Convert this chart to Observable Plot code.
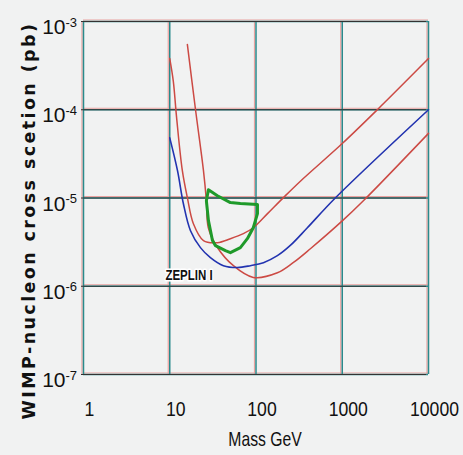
<!DOCTYPE html>
<html>
<head>
<meta charset="utf-8">
<script src="https://cdn.jsdelivr.net/npm/d3@7"></script>
<script src="https://cdn.jsdelivr.net/npm/@observablehq/plot@0.6"></script>
<style>
  html, body { margin: 0; padding: 0; background: #f1f2f2; }
  #chart svg { display: block; }
</style>
</head>
<body>
<div id="chart"></div>
<script>
// Axis ticks
const massTicks = [1, 10, 100, 1000, 10000];
const sigmaTicks = [1e-7, 1e-6, 1e-5, 1e-4, 1e-3];

// Blue limit curve
const blueMass  = [10, 12.3, 14.4, 17.4, 22.7, 29.6, 41.9, 60.9, 86, 122, 177, 250, 394, 830, 10000];
const blueSigma = [4.8e-5, 2.04e-5, 8.6e-6, 4.26e-6, 2.74e-6, 2.11e-6, 1.71e-6, 1.63e-6, 1.71e-6, 1.85e-6, 2.22e-6, 2.9e-6, 4.6e-6, 1e-5, 1e-4];

// Upper red limit curve
const redAMass  = [10, 11, 12, 14, 16, 18.8, 24.6, 35.7, 50.5, 71.4, 93, 136, 208, 327, 1000, 2550, 10000];
const redASigma = [3.8e-4, 2.1e-4, 8.2e-5, 2.04e-5, 1.01e-5, 5.1e-6, 3.29e-6, 3.12e-6, 3.46e-6, 3.95e-6, 4.6e-6, 6.65e-6, 1.01e-5, 1.55e-5, 4.14e-5, 1e-4, 3.8e-4];

// Lower red limit curve
const redBMass  = [16, 19.9, 24.6, 26.6, 28, 35.7, 54.7, 93, 177, 272, 427, 1000, 1757, 10000];
const redBSigma = [5.5e-4, 1e-4, 2.04e-5, 9.3e-6, 4.6e-6, 2.75e-6, 1.71e-6, 1.26e-6, 1.42e-6, 1.86e-6, 2.66e-6, 5.5e-6, 9.3e-6, 5.4e-5];

// Green signal region outline
const greenMass  = [28.1, 35.7, 50.5, 65.9, 104, 104, 93, 79.4, 65.9, 50.5, 44.2, 33.9, 31.3, 28.1, 26.6, 28.1];
const greenSigma = [1.24e-5, 1.06e-5, 8.87e-6, 8.64e-6, 8.42e-6, 6.65e-6, 4.6e-6, 3.46e-6, 2.74e-6, 2.4e-6, 2.53e-6, 2.88e-6, 3.29e-6, 5.55e-6, 9.3e-6, 1.24e-5];

// Curve label
const labels = [{mass: 8.9, sigma: 1.32e-6, text: "ZEPLIN I"}];

const zip = (xs, ys) => xs.map((x, i) => ({mass: x, sigma: ys[i]}));
const blue = zip(blueMass, blueSigma);
const redA = zip(redAMass, redASigma);
const redB = zip(redBMass, redBSigma);
const green = zip(greenMass, greenSigma);

const sans = "'Liberation Sans', Arial, sans-serif";
const teal = "#2a8a8c";
const pink = "#eaa2a0";

const chart = Plot.plot({
  width: 463,
  height: 455,
  marginLeft: 83,
  marginRight: 35,
  marginTop: 21,
  marginBottom: 81,
  style: {background: "#f1f2f2", fontFamily: sans},
  x: {type: "log", domain: [1, 10000], axis: null},
  y: {type: "log", domain: [1e-7, 1e-3], axis: null},
  marks: [
    // grid lines: faint pink fringe plus teal core
    Plot.ruleX(massTicks, {x: d => d, dx: -1.5, stroke: pink, strokeWidth: 1.2}),
    Plot.ruleY(sigmaTicks, {y: d => d, dy: -1.5, stroke: pink, strokeWidth: 1.2}),
    Plot.ruleX(massTicks, {x: d => d, stroke: teal, strokeWidth: 1.5}),
    Plot.ruleY(sigmaTicks, {y: d => d, stroke: teal, strokeWidth: 1.5}),
    // short outward ticks on the sigma axis
    Plot.tickY(sigmaTicks, {y: d => d, frameAnchor: "left", dx: -2, stroke: "#333", strokeWidth: 1}),
    // curves
    Plot.line(redA, {x: "mass", y: "sigma", stroke: "#cc4a44", strokeWidth: 1.5, curve: "catmull-rom"}),
    Plot.line(redB, {x: "mass", y: "sigma", stroke: "#cc4a44", strokeWidth: 1.5, curve: "catmull-rom"}),
    Plot.line(blue, {x: "mass", y: "sigma", stroke: "#2233b0", strokeWidth: 1.6, curve: "catmull-rom"}),
    Plot.line(green, {x: "mass", y: "sigma", stroke: "#1f9a2a", strokeWidth: 3, curve: "linear", strokeLinejoin: "round"}),
    Plot.text(labels, {x: "mass", y: "sigma", text: "text", textAnchor: "start", fontSize: 14, fontWeight: "bold", fill: "#111", stroke: "white", strokeWidth: 3, paintOrder: "stroke", ariaDescription: "curve-label"}),
    // x tick labels
    Plot.text(massTicks, {x: d => d, frameAnchor: "bottom", text: d => String(d), textAnchor: "middle", dy: 35, dx: 6, fontSize: 21, fill: "#111", lineAnchor: "middle", ariaDescription: "mass-ticks"}),
    // y tick labels: base and exponent
    Plot.text(sigmaTicks, {y: d => d, frameAnchor: "left", text: () => "10", textAnchor: "end", dx: -18, dy: 6, fontSize: 21, fill: "#111"}),
    Plot.text(sigmaTicks, {y: d => d, frameAnchor: "left", text: d => String(Math.round(Math.log10(d))), textAnchor: "start", dx: -18, dy: 1, fontSize: 13, fill: "#111"}),
    // axis titles
    Plot.text(["Mass GeV"], {frameAnchor: "bottom", textAnchor: "middle", lineAnchor: "middle", dx: 9, dy: 65, fontSize: 21, fill: "#111", ariaDescription: "mass-title"}),
    Plot.text(["WIMP-nucleon cross scetion (pb)"], {frameAnchor: "left", textAnchor: "middle", rotate: -90, dx: -54, dy: 22.5, fontSize: 17.5, fontWeight: "bold", fontFamily: "'DejaVu Sans', sans-serif", fill: "#111", ariaDescription: "sigma-title"})
  ]
});

// Condense the narrow-looking labels horizontally around their anchors
function condense(selector, sx) {
  d3.select(chart).selectAll(selector).each(function () {
    const t = d3.select(this);
    const tr = t.attr("transform");
    if (tr) {
      t.attr("transform", `${tr} scale(${sx},1)`);
    } else {
      const x = +t.attr("x") || 0, y = +t.attr("y") || 0;
      t.attr("x", null).attr("y", null).attr("transform", `translate(${x},${y}) scale(${sx},1)`);
    }
  });
}
condense('g[aria-description="mass-ticks"] text', 0.84);
condense('g[aria-description="mass-title"] text', 0.75);
condense('g[aria-description="curve-label"] text', 0.82);
d3.select(chart).selectAll('g[aria-description="sigma-title"] text').attr("letter-spacing", 2.4);

document.getElementById("chart").append(chart);
</script>
</body>
</html>
